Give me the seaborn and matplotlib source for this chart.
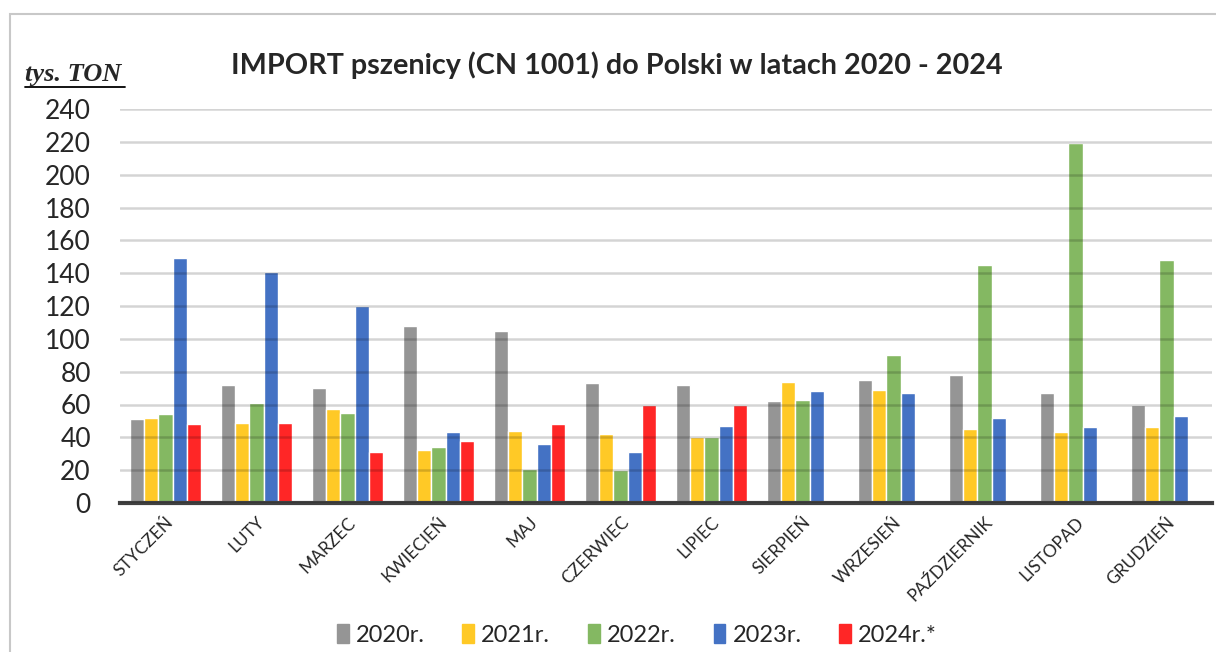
import numpy as np
import pandas as pd
import matplotlib
matplotlib.use("Agg")
import matplotlib.pyplot as plt
import seaborn as sns
from matplotlib.lines import Line2D
from matplotlib.patches import Rectangle

# ---------------- data (tys. ton) ----------------
months = ['STYCZEŃ', 'LUTY', 'MARZEC', 'KWIECIEŃ', 'MAJ', 'CZERWIEC', 'LIPIEC',
          'SIERPIEŃ', 'WRZESIEŃ', 'PAŹDZIERNIK', 'LISTOPAD', 'GRUDZIEŃ']
years = ['2020r.', '2021r.', '2022r.', '2023r.', '2024r.*']

y2020 = [51, 72, 70, 108, 105, 73, 72, 62, 75, 78, 67, 60]
y2021 = [52, 49, 57, 32, 44, 42, 40, 74, 69, 45, 43, 46]
y2022 = [54, 61, 55, 34, 21, 20, 40, 63, 90, 145, 219, 148]
y2023 = [149, 141, 120, 43, 36, 31, 47, 68, 67, 52, 46, 53]
y2024 = [48, 49, 31, 38, 48, 60, 60, np.nan, np.nan, np.nan, np.nan, np.nan]

colors = ['#959595', '#FFC926', '#84B862', '#4472C4', '#FF2626']

# long format for seaborn
df = pd.DataFrame({'month': months * 5,
                   'year': np.repeat(years, len(months)),
                   'value': y2020 + y2021 + y2022 + y2023 + y2024})

# ---------------- plot ----------------
sns.set_style('white')
plt.rcParams['font.family'] = ['Lato', 'DejaVu Sans']

fig = plt.figure(figsize=(12.16, 6.52), dpi=100)
ax = fig.add_axes([120 / 1216, 1 - 503 / 652, 1092 / 1216, 394 / 652])

sns.barplot(data=df, x='month', y='value', hue='year', order=months,
            hue_order=years, palette=colors, width=0.77, saturation=1,
            errorbar=None, ax=ax, legend=True)

ax.set_ylim(0, 240)
ax.set_xlim(-0.5, 11.5)
ax.set_yticks(range(0, 241, 20))
# light grid drawn over the bars (darkens them a bit, like the original)
ax.yaxis.grid(True, color='black', alpha=0.17, linewidth=1.8)
ax.set_axisbelow(False)
ax.tick_params(axis='y', labelsize=19, length=0, pad=21)
ax.tick_params(axis='x', labelsize=12.5, length=0, pad=8)
for lab in ax.get_xticklabels():
    lab.set_rotation(45)
    lab.set_ha('right')
    lab.set_rotation_mode('anchor')
ax.set_xlabel('')
ax.set_ylabel('')
for side in ['top', 'right', 'left']:
    ax.spines[side].set_visible(False)
ax.spines['bottom'].set_color('#404040')
ax.spines['bottom'].set_linewidth(3)

# legend at the bottom
handles = [Rectangle((0, 0), 1, 1, color=c) for c in colors]
ax.legend(handles, years, loc='center', bbox_to_anchor=(637 / 1216, 1 - 635 / 652),
          bbox_transform=fig.transFigure, ncol=5, frameon=False, fontsize=17,
          handlelength=0.5, handleheight=0.85, handletextpad=0.3, columnspacing=1.6)

# title and unit label
fig.text(617 / 1216, 1 - 65 / 652, 'IMPORT pszenicy (CN 1001) do Polski w latach 2020 - 2024',
         ha='center', va='center', fontsize=20.7, fontweight='bold')
fig.text(25 / 1216, 1 - 74 / 652, 'tys. TON', ha='left', va='center', fontsize=19,
         fontweight='bold', fontstyle='italic', family='Liberation Serif')
fig.add_artist(Line2D([25 / 1216, 125 / 1216], [1 - 87 / 652, 1 - 87 / 652],
                      color='black', linewidth=1.3, transform=fig.transFigure))

# chart border
fig.add_artist(Rectangle((10 / 1216, -0.01), 1.0, 1 - 14 / 652 + 0.01, fill=False,
                         edgecolor='#c8c8c8', linewidth=1.5, transform=fig.transFigure))

fig.savefig('out.png', dpi=100)
